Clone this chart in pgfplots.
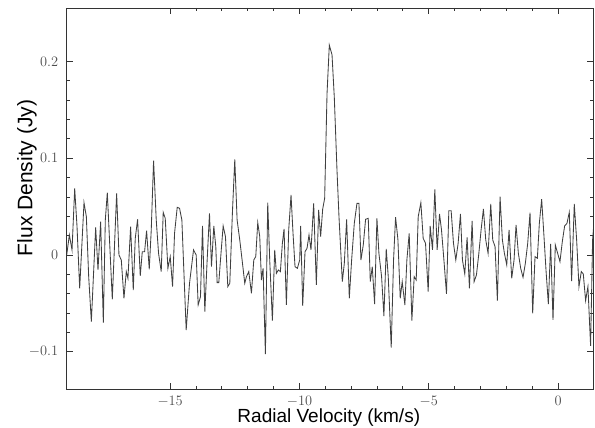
\documentclass[border=0pt]{standalone}
\usepackage{pgfplots}
\pgfplotsset{compat=1.18}
\usepackage{fontspec}
\setmainfont{Liberation Sans}
\begin{document}
\begin{tikzpicture}
\begin{axis}[
 name=ax,
 scale only axis,
 width=526.3pt, height=381pt,
 xmin=-19, xmax=1.35, ymin=-0.1386, ymax=0.2554,
 xtick={-15,-10,-5,0}, ytick={-0.1,0,0.1,0.2},
 minor x tick num=4, minor y tick num=4,
 tick align=inside,
 xtick pos=both, ytick pos=both,
 major tick length=6.5pt, minor tick length=3.5pt,
 every tick/.append style={black!80, line width=0.9pt},
 axis line style={black!80, line width=0.8pt},
 ticklabel style={font=\fontsize{13.5}{15}\selectfont, text=black!70},
 xticklabel style={anchor=base, yshift=-16.8pt},
 yticklabel style={anchor=east, xshift=-5pt},
 xlabel={Radial Velocity (km/s)},
 ylabel={Flux Density (Jy)},
 xlabel style={font=\fontsize{19}{22}\selectfont, at={(axis description cs:0.498,-0.0885)}, anchor=base},
 ylabel style={font=\fontsize{21}{24}\selectfont, at={(axis description cs:-0.0754,0.554)}, anchor=center},
 clip=true,
]
\addplot[black!75, line width=0.85pt, mark=none] table {
x y
-19.000 0.0000
-18.897 0.0207
-18.794 0.0052
-18.691 0.0689
-18.601 0.0293
-18.498 -0.0345
-18.331 0.0541
-18.240 0.0396
-18.150 -0.0224
-18.047 -0.0689
-17.880 0.0286
-17.790 -0.0155
-17.687 0.0345
-17.584 -0.0700
-17.507 0.0362
-17.430 0.0645
-17.237 -0.0458
-17.069 0.0638
-16.979 0.0000
-16.889 -0.0052
-16.786 -0.0448
-16.696 -0.0172
-16.632 -0.0241
-16.529 0.0293
-16.426 -0.0362
-16.349 0.0172
-16.259 0.0369
-16.156 -0.0217
-16.078 0.0034
-15.988 0.0034
-15.911 0.0252
-15.808 -0.0148
-15.731 0.0259
-15.641 0.0976
-15.538 0.0362
-15.448 0.0017
-15.345 -0.0172
-15.268 0.0441
-15.190 0.0379
-15.087 -0.0138
-14.997 -0.0017
-14.907 -0.0327
-14.830 0.0224
-14.727 0.0493
-14.637 0.0483
-14.547 0.0362
-14.380 -0.0776
-14.251 -0.0293
-14.096 0.0052
-13.993 0.0000
-13.917 -0.0517
-13.827 -0.0431
-13.749 0.0300
-13.659 -0.0586
-13.569 -0.0052
-13.479 0.0431
-13.402 -0.0121
-13.312 0.0300
-13.235 0.0086
-13.183 -0.0286
-13.119 -0.0286
-13.054 -0.0052
-12.951 0.0300
-12.861 0.0190
-12.771 -0.0327
-12.694 -0.0293
-12.591 0.0448
-12.501 0.0989
-12.411 0.0362
-12.308 0.0155
-12.218 -0.0052
-12.115 -0.0293
-12.050 -0.0224
-11.960 -0.0172
-11.857 -0.0396
-11.767 -0.0052
-11.690 -0.0017
-11.613 0.0334
-11.536 0.0190
-11.471 -0.0259
-11.407 -0.0138
-11.317 -0.1024
-11.227 0.0541
-11.150 -0.0052
-11.047 -0.0679
-10.957 0.0052
-10.892 -0.0190
-10.815 -0.0155
-10.738 -0.0172
-10.661 0.0121
-10.596 0.0269
-10.506 -0.0517
-10.416 0.0259
-10.326 0.0620
-10.249 0.0224
-10.172 -0.0121
-10.081 -0.0138
-9.991 -0.0052
-9.953 0.0300
-9.875 -0.0527
-9.785 0.0034
-9.708 0.0069
-9.631 0.0207
-9.554 0.0052
-9.451 0.0534
-9.348 -0.0310
-9.258 0.0465
-9.181 0.0190
-9.103 0.0472
-9.026 0.0586
-8.934 0.1670
-8.846 0.2170
-8.741 0.2070
-8.653 0.1630
-8.548 0.0870
-8.472 0.0396
-8.343 -0.0276
-8.266 -0.0086
-8.176 0.0369
-8.073 -0.0448
-7.983 -0.0052
-7.880 0.0327
-7.777 0.0534
-7.700 0.0534
-7.623 -0.0052
-7.533 0.0103
-7.443 0.0369
-7.340 0.0379
-7.262 -0.0276
-7.185 -0.0121
-7.095 -0.0507
-7.005 0.0379
-6.928 0.0017
-6.825 -0.0224
-6.735 -0.0631
-6.645 0.0062
-6.567 -0.0224
-6.452 -0.0958
-6.362 -0.0052
-6.284 0.0390
-6.194 0.0162
-6.104 -0.0448
-6.027 -0.0276
-5.924 -0.0517
-5.847 -0.0052
-5.757 0.0224
-5.654 -0.0679
-5.564 -0.0224
-5.486 -0.0259
-5.409 0.0396
-5.306 0.0541
-5.216 0.0172
-5.126 0.0121
-5.023 -0.0379
-4.946 0.0300
-4.856 0.0052
-4.766 0.0679
-4.676 0.0052
-4.585 0.0424
-4.508 0.0259
-4.405 -0.0086
-4.315 -0.0403
-4.225 0.0458
-4.135 0.0458
-4.045 0.0121
-3.955 -0.0052
-3.865 0.0121
-3.775 0.0424
-3.698 -0.0052
-3.608 -0.0196
-3.518 0.0183
-3.428 -0.0345
-3.325 0.0352
-3.247 -0.0276
-3.157 -0.0207
-3.067 0.0010
-2.977 0.0259
-2.887 0.0476
-2.797 0.0155
-2.707 0.0017
-2.604 0.0527
-2.527 0.0155
-2.437 0.0086
-2.347 -0.0472
-2.244 0.0603
-2.154 0.0155
-2.076 0.0017
-1.986 -0.0103
-1.896 0.0259
-1.793 -0.0241
-1.703 -0.0052
-1.626 0.0310
-1.536 0.0017
-1.446 -0.0138
-1.356 -0.0231
-1.266 -0.0086
-1.175 0.0121
-1.085 0.0438
-0.982 -0.0603
-0.892 -0.0017
-0.802 -0.0034
-0.725 0.0327
-0.635 0.0576
-0.545 0.0190
-0.468 -0.0155
-0.377 -0.0507
-0.287 0.0114
-0.197 -0.0672
-0.107 0.0103
-0.017 0.0017
0.073 -0.0069
0.163 0.0138
0.253 0.0300
0.343 0.0327
0.433 0.0441
0.523 -0.0269
0.626 0.0527
0.717 0.0155
0.807 -0.0327
0.897 -0.0172
0.974 -0.0196
1.064 -0.0472
1.154 -0.0327
1.257 -0.0941
1.334 0.0155
1.399 0.0379
};
\end{axis}
\pgfresetboundingbox
\path ([xshift=-66.7pt,yshift=-38pt]ax.south west) rectangle ([xshift=2pt,yshift=8pt]ax.north east);
\end{tikzpicture}
\end{document}
